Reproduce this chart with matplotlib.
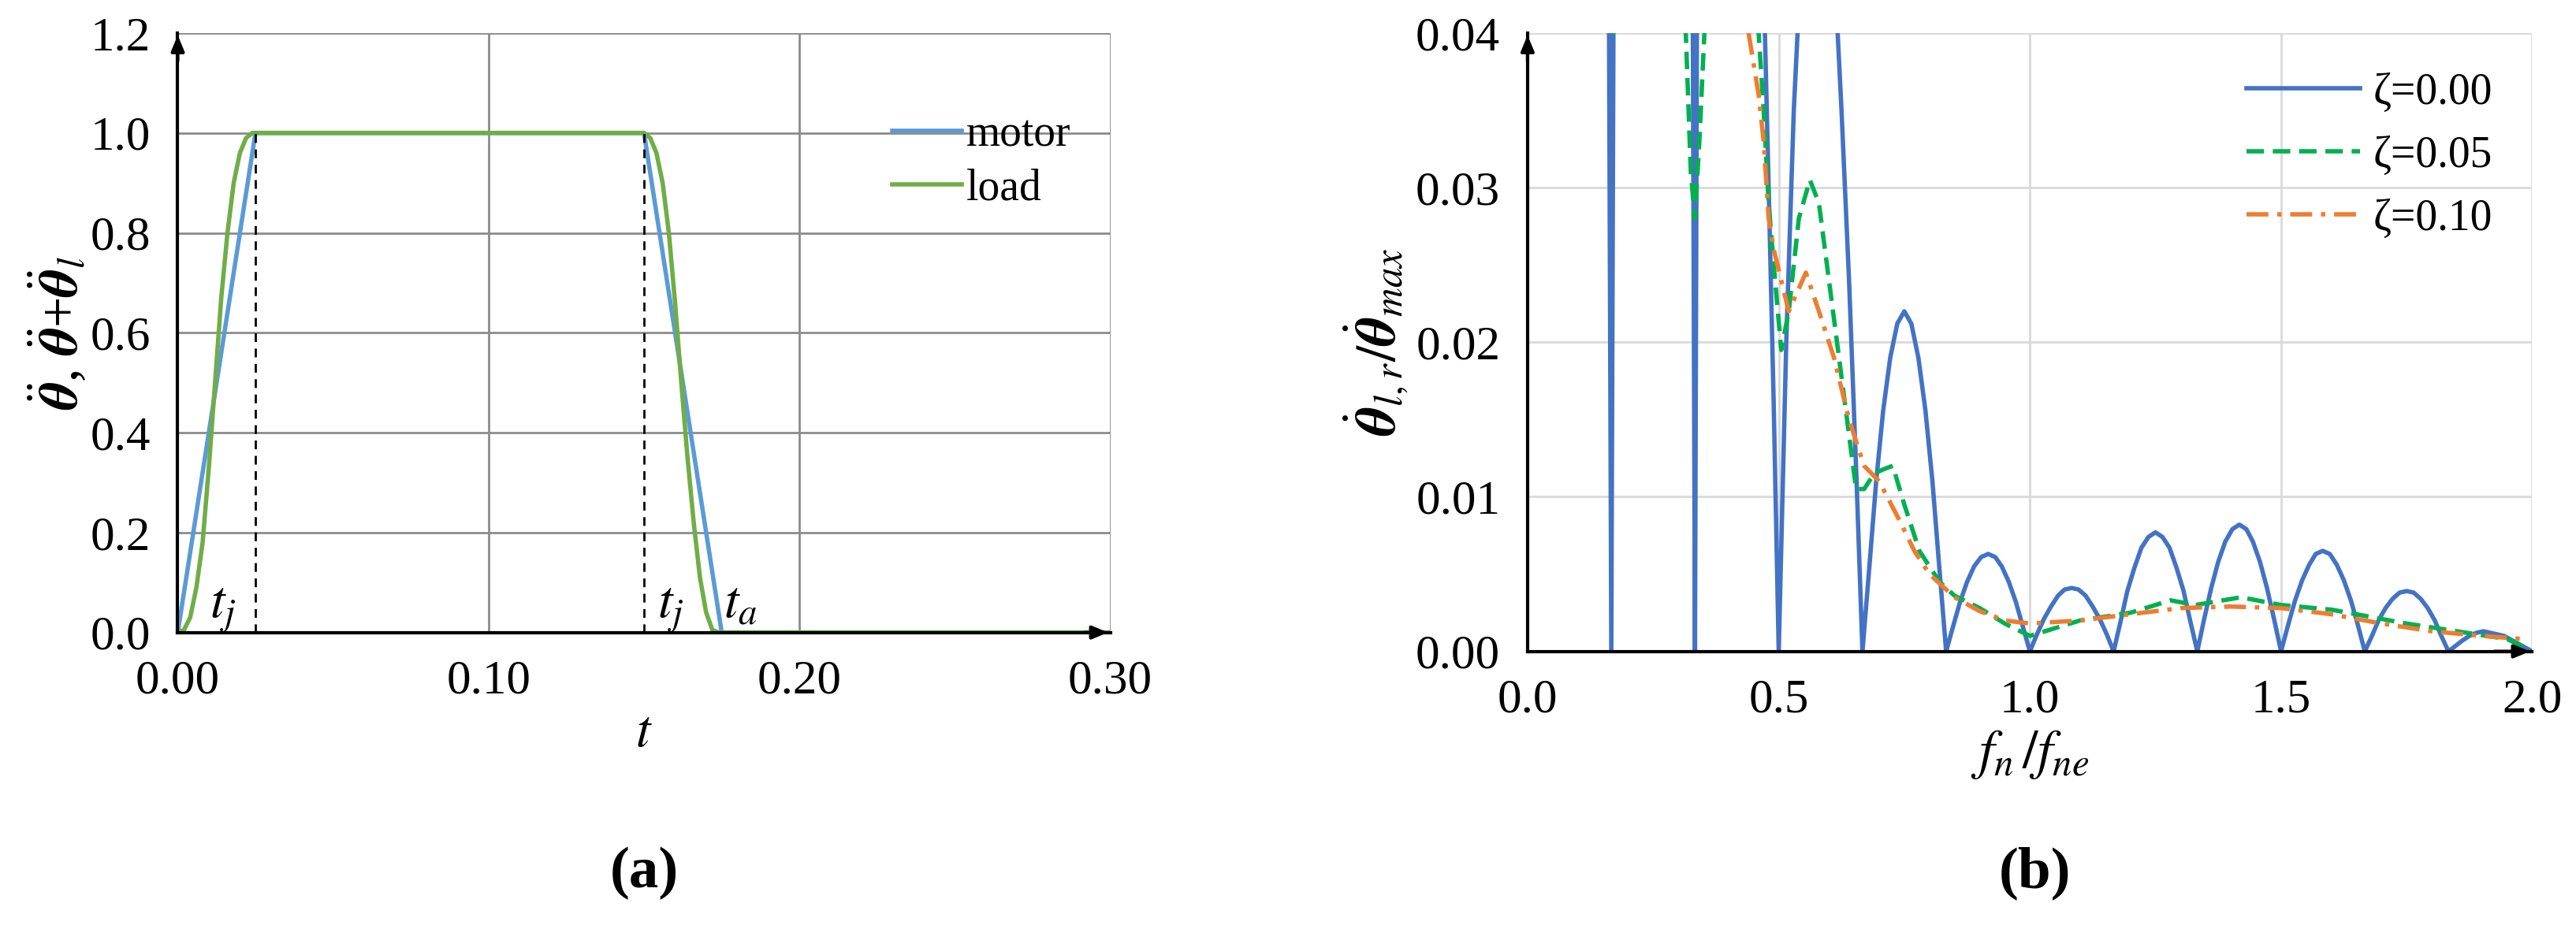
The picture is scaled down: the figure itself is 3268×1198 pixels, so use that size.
import matplotlib
matplotlib.use("Agg")
import matplotlib.pyplot as plt

plt.rcParams['font.family'] = ['Liberation Serif', 'DejaVu Serif']
plt.rcParams['mathtext.fontset'] = 'stix'

# ---- panel (a) data ----
motor_t = [0.0, 0.025, 0.150, 0.175, 0.30]
motor_y = [0.0, 1.0, 1.0, 0.0, 0.0]
load_t = [0.0, 0.002, 0.004, 0.006, 0.008, 0.010, 0.012, 0.014, 0.016, 0.018, 0.020, 0.022, 0.024,
          0.150, 0.152, 0.154, 0.156, 0.158, 0.160, 0.162, 0.164, 0.166, 0.168, 0.170, 0.172, 0.174, 0.30]
load_y = [0.0, 0.005, 0.03, 0.09, 0.18, 0.33, 0.50, 0.67, 0.80, 0.90, 0.96, 0.99, 1.0,
          1.0, 0.99, 0.96, 0.90, 0.80, 0.66, 0.50, 0.35, 0.22, 0.11, 0.04, 0.005, 0.0, 0.0]
tj1, tj2 = 0.025, 0.150

# ---- panel (b) data ----
z0_x = [0.0, 0.10, 0.150, 0.160, 0.1667, 0.173, 0.185, 0.20, 0.30, 0.320, 0.328, 0.3333, 0.338, 0.346, 0.36,
        0.44, 0.465, 0.480, 0.490, 0.500, 0.515, 0.530, 0.545, 0.560, 0.583, 0.605, 0.625, 0.640, 0.655, 0.6667,
        0.681, 0.694, 0.708, 0.722, 0.736, 0.750, 0.764, 0.778, 0.792, 0.806, 0.819, 0.8333,
        0.847, 0.861, 0.875, 0.889, 0.903, 0.917, 0.931, 0.944, 0.958, 0.972, 0.986, 1.0,
        1.014, 1.028, 1.042, 1.056, 1.069, 1.083, 1.097, 1.111, 1.125, 1.139, 1.153, 1.1667,
        1.181, 1.194, 1.208, 1.222, 1.236, 1.250, 1.264, 1.278, 1.292, 1.306, 1.319, 1.3333,
        1.347, 1.361, 1.375, 1.389, 1.403, 1.417, 1.431, 1.444, 1.458, 1.472, 1.486, 1.5,
        1.514, 1.528, 1.542, 1.556, 1.569, 1.583, 1.597, 1.611, 1.625, 1.639, 1.653, 1.6667,
        1.681, 1.694, 1.708, 1.722, 1.736, 1.750, 1.764, 1.778, 1.792, 1.806, 1.819, 1.8333,
        1.861, 1.875, 1.889, 1.903, 1.917, 1.944, 1.972, 2.0]
z0_y = [0.5, 0.4, 0.12, 0.06, 0.0, 0.06, 0.12, 0.3, 0.25, 0.12, 0.05, 0.0, 0.05, 0.12, 0.2,
        0.09, 0.05, 0.03, 0.016, 0.0, 0.02, 0.035, 0.045, 0.052, 0.057, 0.048, 0.035, 0.024, 0.011, 0.0,
        0.0057, 0.011, 0.0156, 0.019, 0.0212, 0.022, 0.0212, 0.019, 0.0156, 0.011, 0.0057, 0.0,
        0.0016, 0.0032, 0.0045, 0.0055, 0.0061, 0.0063, 0.0061, 0.0055, 0.0045, 0.0032, 0.0016, 0.0,
        0.0011, 0.0021, 0.0029, 0.0036, 0.0040, 0.0041, 0.0040, 0.0036, 0.0029, 0.0021, 0.0011, 0.0,
        0.0020, 0.0039, 0.0054, 0.0067, 0.0074, 0.0077, 0.0074, 0.0067, 0.0054, 0.0039, 0.0020, 0.0,
        0.0021, 0.0041, 0.0058, 0.0071, 0.0079, 0.0082, 0.0079, 0.0071, 0.0058, 0.0041, 0.0021, 0.0,
        0.0017, 0.0033, 0.0046, 0.0056, 0.0063, 0.0065, 0.0063, 0.0056, 0.0046, 0.0033, 0.0017, 0.0,
        0.0010, 0.0020, 0.0028, 0.0034, 0.0038, 0.0039, 0.0038, 0.0034, 0.0028, 0.0020, 0.0010, 0.0,
        0.0007, 0.0010, 0.0012, 0.0013, 0.0012, 0.0010, 0.0005, 0.0]
z5_x = [0.15, 0.17, 0.30, 0.315, 0.325, 0.333, 0.342, 0.352, 0.40, 0.46, 0.47, 0.48, 0.49, 0.505, 0.52,
        0.54, 0.562, 0.58, 0.60, 0.62, 0.64, 0.654, 0.67, 0.69, 0.71, 0.727, 0.75, 0.78, 0.82, 0.85, 0.9,
        0.95, 1.0, 1.05, 1.1, 1.2, 1.28, 1.33, 1.42, 1.5, 1.6, 1.75, 1.85, 1.95, 2.0]
z5_y = [0.2, 0.04, 0.09, 0.04, 0.031, 0.028, 0.033, 0.04, 0.09, 0.04, 0.035, 0.029, 0.025, 0.0195, 0.022,
        0.028, 0.0305, 0.029, 0.024, 0.019, 0.014, 0.0105, 0.0105, 0.0115, 0.0118, 0.012, 0.0095, 0.0065, 0.0045, 0.0036, 0.0028,
        0.0018, 0.001, 0.0015, 0.002, 0.0025, 0.0033, 0.003, 0.0035, 0.003, 0.0027, 0.0018, 0.0013, 0.0008, 0.0]
z10_x = [0.44, 0.46, 0.47, 0.48, 0.49, 0.52, 0.554, 0.58, 0.61, 0.64, 0.67, 0.70, 0.74, 0.77, 0.80, 0.85,
         0.90, 0.95, 1.0, 1.1, 1.2, 1.3, 1.4, 1.5, 1.6, 1.7, 1.8, 1.9, 1.98]
z10_y = [0.04, 0.036, 0.033, 0.028, 0.026, 0.022, 0.0245, 0.022, 0.019, 0.015, 0.012, 0.011, 0.0085, 0.0065, 0.005, 0.0035,
         0.0026, 0.002, 0.0018, 0.002, 0.0024, 0.0028, 0.0029, 0.0028, 0.0024, 0.0018, 0.0013, 0.001, 0.0008]

fig = plt.figure(figsize=(32.68, 11.98), dpi=100)
TFS = 44

# ---- (a) ----
ax = fig.add_axes([0.069, 0.33, 0.362, 0.635])
ax.plot(motor_t, motor_y, color='#5B9BD5', lw=4, label='motor')
ax.plot(load_t, load_y, color='#70AD47', lw=4, label='load')
for tv in (tj1, tj2):
    ax.plot([tv, tv], [0, 1], color='black', lw=2, ls=(0, (4, 3)))
ax.set_xlim(0, 0.30)
ax.set_ylim(0, 1.2)
ax.set_xticks([0.0, 0.1, 0.2, 0.3])
ax.set_xticklabels(['0.00', '0.10', '0.20', '0.30'])
ax.set_yticks([0, 0.2, 0.4, 0.6, 0.8, 1.0, 1.2])
ax.set_yticklabels(['0.0', '0.2', '0.4', '0.6', '0.8', '1.0', '1.2'])
ax.grid(True, color='#8c8c8c', lw=2)
ax.set_axisbelow(True)
for s in ('top', 'right'):
    ax.spines[s].set_visible(False)
for s in ('left', 'bottom'):
    ax.spines[s].set_linewidth(3)
ax.tick_params(length=0, labelsize=TFS, pad=25)
ax.annotate('', xy=(1.0, 0), xycoords='axes fraction', xytext=(0.97, 0),
            arrowprops=dict(arrowstyle='-|>,head_length=1.2,head_width=0.5', color='black', lw=3))
ax.annotate('', xy=(0, 1.0), xycoords='axes fraction', xytext=(0, 0.95),
            arrowprops=dict(arrowstyle='-|>,head_length=1.2,head_width=0.5', color='black', lw=3))
ax.text(0.0145, 0.03, '$t_j$', fontsize=48, ha='center')
ax.text(0.1585, 0.03, '$t_j$', fontsize=48, ha='center')
ax.text(0.181, 0.03, '$t_a$', fontsize=48, ha='center')
ax.set_xlabel('$t$', fontsize=48, labelpad=5)
ax.set_ylabel(r'$\ddot{\boldsymbol{\theta}}$, $\ddot{\boldsymbol{\theta}}$+$\ddot{\boldsymbol{\theta}}_l$',
              fontsize=50, labelpad=0)
ax.legend(loc='upper right', bbox_to_anchor=(1.0, 0.93), frameon=False, fontsize=40,
          handlelength=1.6, handletextpad=0.1, labelspacing=0.3)
fig.text(0.25, 0.06, '(a)', fontsize=54, ha='center', fontweight='bold')

# ---- (b) ----
bx = fig.add_axes([0.593, 0.31, 0.390, 0.655])
bx.plot(z0_x, z0_y, color='#4472C4', lw=4, label='ζ=0.00')
bx.plot(z5_x, z5_y, color='#00B050', lw=4, ls=(0, (4, 2)), label='ζ=0.05')
bx.plot(z10_x, z10_y, color='#ED7D31', lw=4, ls=(0, (5, 2, 1, 2)), label='ζ=0.10')
bx.set_xlim(0, 2.0)
bx.set_ylim(0, 0.04)
bx.set_xticks([0, 0.5, 1.0, 1.5, 2.0])
bx.set_xticklabels(['0.0', '0.5', '1.0', '1.5', '2.0'])
bx.set_yticks([0, 0.01, 0.02, 0.03, 0.04])
bx.set_yticklabels(['0.00', '0.01', '0.02', '0.03', '0.04'])
bx.grid(True, color='#d9d9d9', lw=2)
bx.set_axisbelow(True)
for s in ('top', 'right'):
    bx.spines[s].set_visible(False)
for s in ('left', 'bottom'):
    bx.spines[s].set_linewidth(3)
bx.tick_params(length=0, labelsize=TFS, pad=25)
bx.annotate('', xy=(1.0, 0), xycoords='axes fraction', xytext=(0.96, 0),
            arrowprops=dict(arrowstyle='-|>,head_length=1.2,head_width=0.5', color='black', lw=3))
bx.annotate('', xy=(0, 1.0), xycoords='axes fraction', xytext=(0, 0.95),
            arrowprops=dict(arrowstyle='-|>,head_length=1.2,head_width=0.5', color='black', lw=3))
bx.set_xlabel(r'$f_n\,/f_{ne}$', fontsize=50, labelpad=5)
bx.set_ylabel(r'$\dot{\boldsymbol{\theta}}_{l,r}/\dot{\boldsymbol{\theta}}_{max}$', fontsize=52, labelpad=5)
bx.legend(loc='upper right', bbox_to_anchor=(1.0, 1.0), frameon=False, fontsize=40,
          handlelength=2.6, handletextpad=0.3, labelspacing=0.5)
fig.text(0.79, 0.06, '(b)', fontsize=54, ha='center', fontweight='bold')

fig.savefig('out.png', dpi=100, facecolor='white')
